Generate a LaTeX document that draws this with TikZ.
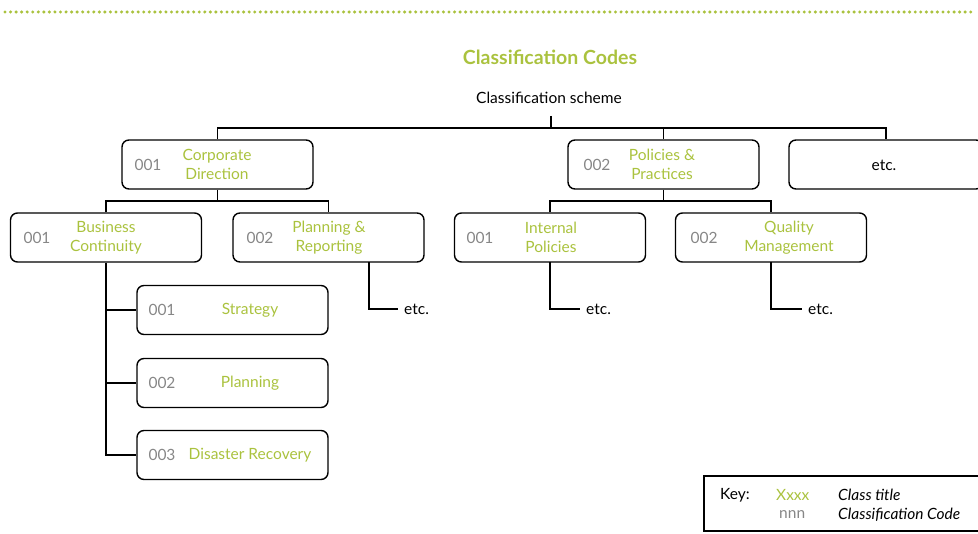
\documentclass[tikz,border=0pt]{standalone}
\usepackage{fontspec}
\setmainfont{Lato}
\definecolor{lime}{RGB}{170,194,62}
\definecolor{codegray}{RGB}{135,135,135}
\newcommand{\fs}{\fontsize{15.5}{19}\selectfont}
\begin{document}
\begin{tikzpicture}[x=1pt,y=-1pt,
  box/.style={draw,line width=1.4pt,rounded corners=7pt,minimum width=191pt,minimum height=49pt,inner sep=0pt},
  code/.style={text=codegray,font=\fs,inner sep=0pt},
  ttl/.style={text=lime,font=\fs,align=center,inner sep=0pt},
  plain/.style={text=black,font=\fs,inner sep=0pt},
  leaf/.style={text=black,font=\fs,inner ysep=0pt,inner xsep=6pt,anchor=west},
  conn/.style={line width=1.4pt}]
\useasboundingbox (0,0) rectangle (978,534);
% dotted top line
\draw[lime,line width=3.4pt,line cap=round,dash pattern=on 0pt off 5.55pt] (5,12) -- (976,12);
\node[text=lime,font=\bfseries\fontsize{19.5}{22}\selectfont] (title) at (550,57) {Classification Codes};
\node[plain] (root) at (549,98) {Classification scheme};
% level 1
\node[box] (cd) at (217.5,164.5) {};
\node[box] (pp) at (663.5,164.5) {};
\node[box,minimum width=194pt] (etc1) at (886,164.5) {};
\node[code] at (148,164.5) {001};
\node[ttl] at (217,164.5) {Corporate\\Direction};
\node[code] at (597,164.5) {002};
\node[ttl] at (662,164.5) {Policies \&\\Practices};
\node[plain] at (884,165) {etc.};
% level 2
\node[box] (bc) at (106,237.5) {};
\node[box] (pr) at (328.5,237.5) {};
\node[box] (ip) at (550,237.5) {};
\node[box] (qm) at (771,237.5) {};
\node[code] at (37,237.5) {001};
\node[ttl] at (106,237.5) {Business\\Continuity};
\node[code] at (260,237.5) {002};
\node[ttl] at (329,237.5) {Planning \&\\Reporting};
\node[code] at (480,237.5) {001};
\node[ttl] at (551,237.5) {Internal\\Policies};
\node[code] at (704,237.5) {002};
\node[ttl] at (789,237.5) {Quality\\Management};
% level 3
\node[box] (st) at (232.5,310) {};
\node[box] (pl) at (232.5,383) {};
\node[box] (dr) at (232.5,455) {};
\node[code] at (162,310) {001};
\node[ttl] at (250,310) {Strategy};
\node[code] at (162,383) {002};
\node[ttl] at (250,383) {Planning};
\node[code] at (162,455) {003};
\node[ttl] at (250,455) {Disaster Recovery};
% etc leaves
\node[leaf] (e1) at (398,309) {etc.};
\node[leaf] (e2) at (580,309) {etc.};
\node[leaf] (e3) at (802,309) {etc.};
% connectors
\coordinate (rootb) at (551,116);
\draw[conn] (rootb) -- (551,128);
\draw[conn] (cd.north) -- (217.5,128) -- (886,128) -- (etc1.north);
\draw[conn] (663.5,128) -- (pp.north);
\draw[conn] (cd.south) -- (217.5,201);
\draw[conn] (bc.north) -- (106,201) -- (328.5,201) -- (pr.north);
\draw[conn] (pp.south) -- (663.5,201);
\draw[conn] (ip.north) -- (550,201) -- (771,201) -- (qm.north);
\draw[conn] (bc.south) |- (dr.west);
\draw[conn] (106,310) -- (st.west);
\draw[conn] (106,383) -- (pl.west);
\draw[conn] (369,262) |- (e1.west);
\draw[conn] (550,262) |- (e2.west);
\draw[conn] (771,262) |- (e3.west);
% key
\draw[line width=1.4pt] (704,476) rectangle (980,531);
\node[plain,anchor=west] (key) at (720,495) {Key:};
\node[text=lime,font=\fs,anchor=west,inner sep=0pt] (kx) at (776,495) {Xxxx};
\node[code,anchor=west] (kn) at (779,515) {nnn};
\node[plain,anchor=west,font=\itshape\fs] (kt) at (838,495) {Class title};
\node[plain,anchor=west,font=\itshape\fs] (kc) at (838,515) {Classification Code};
\end{tikzpicture}
\end{document}
